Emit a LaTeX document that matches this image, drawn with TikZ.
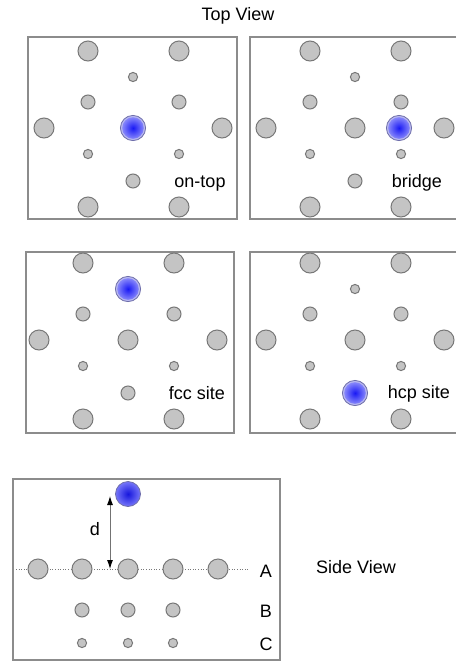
\documentclass[tikz,border=0pt]{standalone}
\usepackage{fontspec}
\setmainfont{Liberation Sans}
\usetikzlibrary{arrows.meta}
\definecolor{atomfill}{RGB}{196,196,196}
\definecolor{atomline}{RGB}{120,120,120}
\definecolor{framegray}{RGB}{140,140,140}
\definecolor{adsin}{RGB}{25,25,245}
\definecolor{adsout}{RGB}{135,135,250}
\definecolor{adsring}{RGB}{110,110,170}
\definecolor{adshalo}{RGB}{185,185,240}
\tikzset{
  atom/.style={fill=atomfill,draw=atomline,line width=1pt},
  frame/.style={draw=framegray,line width=1.1pt},
  lbl/.style={anchor=base,inner sep=0pt,font=\fontsize{18}{21}\selectfont},
  darrow/.style={{Latex[length=9pt,width=6pt,black]}-{Latex[length=9pt,width=6pt,black]}},
}
% big (A), medium (B) and small (C) atoms
\newcommand{\atomA}[2]{\path[atom] (#1,#2) circle[radius=10];}
\newcommand{\atomB}[2]{\path[atom] (#1,#2) circle[radius=7];}
\newcommand{\atomC}[2]{\path[atom] (#1,#2) circle[radius=4.6];}
% adsorbate seen from above: halo ring plus shaded core
\newcommand{\adsTop}[2]{%
  \path[fill=adshalo,draw=adsring,line width=0.8pt] (#1,#2) circle[radius=12.6];
  \shade[inner color=adsin,outer color=adsout] (#1,#2) circle[radius=10.8];}
% one top-view patch of the surface, shifted by (#1,#2)
\newcommand{\surface}[2]{%
  \foreach \u/\v in {88/51,179/51,44/128,222/128,88/207,179/207}{\atomA{\u+#1}{\v+#2}}
  \foreach \u/\v in {88/102,179/102,133/181}{\atomB{\u+#1}{\v+#2}}
  \foreach \u/\v in {133/77,88/154,179/154}{\atomC{\u+#1}{\v+#2}}}
\begin{document}
\begin{tikzpicture}[x=1pt,y=-1pt]
\useasboundingbox (0,0) rectangle (456,662);

\node[lbl] (topview) at (238,20) {Top View};

% on-top
\draw[frame] (28,37) rectangle (237,219);
\surface{0}{0}
\adsTop{133}{128}
\node[lbl] (ontop) at (200,187) {on-top};

% bridge
\draw[frame] (456,37) -- (250,37) -- (250,219) -- (456,219);
\surface{222}{0}
\atomA{355}{128}
\adsTop{399}{128}
\node[lbl] (bridge) at (417,187) {bridge};

% fcc
\draw[frame] (26,252) rectangle (234,433);
\surface{-5}{212}
\atomA{128}{340}
\adsTop{128}{289}
\node[lbl] (fcc) at (197,399) {fcc site};

% hcp
\draw[frame] (456,252) -- (250,252) -- (250,433) -- (456,433);
\surface{222}{212}
\atomA{355}{340}
\adsTop{355}{393}
\node[lbl] (hcp) at (419,398) {hcp site};

% side view
\draw[frame] (13,479) rectangle (280,660);
\coordinate (lineL) at (16,569);
\coordinate (lineR) at (248,569);
\draw[atomline,line width=0.6pt,dotted] (lineL) -- (lineR);
\foreach \u in {38,82,128,173,218}{\atomA{\u}{569}}
\foreach \u in {82,128,173}{\atomB{\u}{610}}
\foreach \u in {82,128,173}{\atomC{\u}{643}}
\shade[inner color=adsin!90!black,outer color=adsout!85!adsin] (128,494) circle[radius=12.5];
\draw[adsring,line width=0.8pt] (128,494) circle[radius=12.5];
\coordinate (dtop) at (110,496);
\coordinate (dbot) at (110,569);
\draw[black!55,line width=0.9pt,darrow] (dtop) -- (dbot);
\node[lbl] (d) at (95,535) {d};
\node[lbl] (layerA) at (266,577) {A};
\node[lbl] (layerB) at (266,617) {B};
\node[lbl] (layerC) at (266,650) {C};
\node[lbl] (sideview) at (356,573) {Side View};
\end{tikzpicture}
\end{document}
